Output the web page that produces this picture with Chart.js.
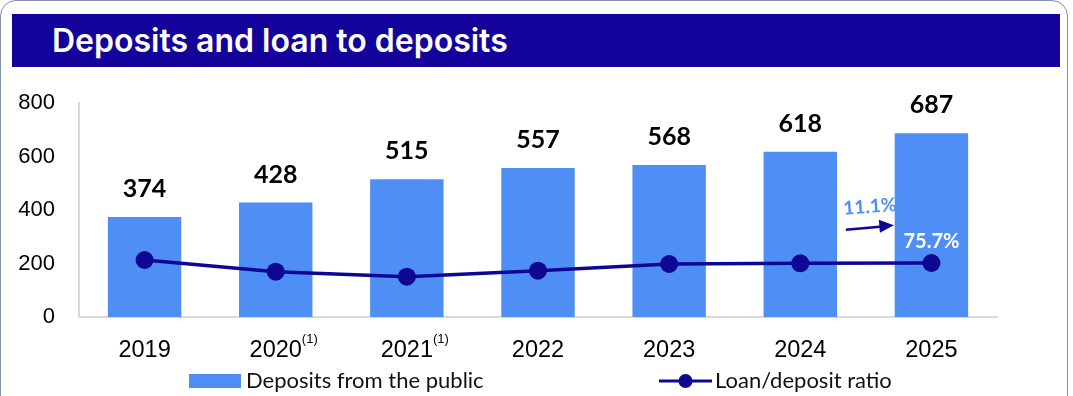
<!DOCTYPE html>
<html>
<head>
<meta charset="utf-8">
<script src="https://cdn.jsdelivr.net/npm/chart.js"></script>
<style>
  body { margin: 0; background: #fff; }
  #frame {
    position: absolute; left: 0; top: 0; width: 1066px; height: 410px;
    border: 1.5px solid #8391a8; border-radius: 16px; overflow: hidden;
  }
  #banner {
    position: absolute; left: 12px; top: 14px; width: 1048px; height: 53px;
    background: #13039a; color: #fff;
    font-family: Inter, "Open Sans", sans-serif; font-weight: 600; font-size: 32px;
    line-height: 53px; padding-left: 40px; box-sizing: border-box;
  }
  #wrap { position: absolute; left: 0; top: 80px; width: 1073px; height: 316px; }
</style>
</head>
<body>
<div id="frame"></div>
<div id="banner">Deposits and loan to deposits</div>
<div id="wrap"><canvas id="chart" width="1073" height="316"></canvas></div>
<script>
const years = ['2019', '2020', '2021', '2022', '2023', '2024', '2025'];
const footnoted = ['2020', '2021'];
const deposits = [374, 428, 515, 557, 568, 618, 687];
const loanToDeposit = [79.9, 63.5, 56.5, 64.9, 74.3, 75.3, 75.7];
const yTicks = [0, 200, 400, 600, 800];
const growthLabel = '11.1%';

const BAR = '#4f8ff5';
const NAVY = '#0e0794';
const TICK_FONT = 23.5;

// numbers above bars, last ratio label, growth arrow, footnote marks, legend
const extras = {
  id: 'extras',
  afterDatasetsDraw(chart) {
    const ctx = chart.ctx;
    const x = chart.scales.x, y = chart.scales.y;
    ctx.save();
    ctx.fillStyle = '#000';
    ctx.font = 'bold 25px Lato';
    ctx.textAlign = 'center';
    ctx.textBaseline = 'middle';
    chart.getDatasetMeta(0).data.forEach((bar, i) => {
      ctx.fillText(deposits[i], bar.x, bar.y - 28);
    });

    const pts = chart.getDatasetMeta(1).data;
    const last = pts[pts.length - 1];
    ctx.fillStyle = '#fff';
    ctx.font = 'bold 20px Lato';
    ctx.fillText(loanToDeposit[loanToDeposit.length - 1] + '%', last.x, last.y - 21);

    // growth between the last two years
    const gx = (x.getPixelForValue(5) + x.getPixelForValue(6)) / 2;
    const gy = y.getPixelForValue(345);
    ctx.save();
    ctx.translate(gx + 4, gy - 18);
    ctx.rotate(-0.07);
    ctx.fillStyle = BAR;
    ctx.font = 'bold 19px Lato';
    ctx.fillText(growthLabel, 0, 0);
    ctx.restore();
    ctx.strokeStyle = NAVY;
    ctx.fillStyle = NAVY;
    ctx.lineWidth = 2.5;
    ctx.beginPath();
    ctx.moveTo(gx - 20, gy + 5);
    ctx.lineTo(gx + 14, gy + 2);
    ctx.stroke();
    ctx.beginPath();
    ctx.moveTo(gx + 28, gy + 0.5);
    ctx.lineTo(gx + 13, gy - 5);
    ctx.lineTo(gx + 14, gy + 8);
    ctx.closePath();
    ctx.fill();
    ctx.restore();
  },
  afterDraw(chart) {
    const ctx = chart.ctx;
    const x = chart.scales.x;
    const area = chart.chartArea;
    ctx.save();
    // footnote superscripts on tick labels
    years.forEach((yr, i) => {
      if (!footnoted.includes(yr)) return;
      ctx.font = TICK_FONT + 'px "Liberation Sans"';
      const w = ctx.measureText(yr).width;
      const px = x.getPixelForValue(i) + w / 2;
      ctx.font = '13px "Liberation Sans"';
      ctx.fillStyle = '#000';
      ctx.textAlign = 'left';
      ctx.textBaseline = 'middle';
      ctx.fillText('(1)', px, area.bottom + 22);
    });

    // legend
    const ly = 301;
    const l1 = area.left + 110;
    ctx.fillStyle = BAR;
    ctx.fillRect(l1, ly - 7, 52, 14);
    ctx.fillStyle = '#111';
    ctx.font = '22px Lato';
    ctx.textAlign = 'left';
    ctx.textBaseline = 'middle';
    ctx.fillText('Deposits from the public', l1 + 57, ly);
    const l2 = area.left + 580;
    ctx.strokeStyle = NAVY;
    ctx.lineWidth = 3;
    ctx.beginPath();
    ctx.moveTo(l2, ly);
    ctx.lineTo(l2 + 53, ly);
    ctx.stroke();
    ctx.fillStyle = NAVY;
    ctx.beginPath();
    ctx.arc(l2 + 26.5, ly, 7, 0, Math.PI * 2);
    ctx.fill();
    ctx.fillStyle = '#111';
    ctx.fillText('Loan/deposit ratio', l2 + 56, ly);
    ctx.restore();
  }
};

new Chart(document.getElementById('chart'), {
  data: {
    labels: years,
    datasets: [
      {
        type: 'bar',
        label: 'Deposits from the public',
        data: deposits,
        backgroundColor: BAR,
        categoryPercentage: 1,
        barPercentage: 0.56,
        order: 1
      },
      {
        type: 'line',
        label: 'Loan/deposit ratio',
        data: loanToDeposit,
        yAxisID: 'y2',
        borderColor: NAVY,
        backgroundColor: NAVY,
        borderWidth: 3.5,
        pointRadius: 9,
        pointHoverRadius: 9,
        pointBackgroundColor: NAVY,
        pointBorderWidth: 0,
        tension: 0,
        order: 0
      }
    ]
  },
  options: {
    responsive: false,
    animation: false,
    layout: { padding: { top: 23, right: 76, left: 0, bottom: 0 } },
    plugins: { legend: { display: false }, tooltip: { enabled: false } },
    scales: {
      x: {
        grid: { display: false, drawTicks: false },
        border: { color: '#d9d9d9', width: 2 },
        ticks: { color: '#000', font: { family: 'Liberation Sans', size: TICK_FONT }, padding: 19 },
        afterFit(s) { s.height = 79; }
      },
      y: {
        min: 0,
        max: 800,
        afterBuildTicks(s) { s.ticks = yTicks.map(v => ({ value: v })); },
        // tick marks are hidden; their length only spaces the labels from the axis
        grid: { display: false, drawTicks: true, tickLength: 22 },
        border: { color: '#d9d9d9', width: 2 },
        ticks: { color: '#000', font: { family: 'Liberation Sans', size: 22 }, padding: 2 },
        afterFit(s) { s.width = 79; }
      },
      y2: { display: false, min: 0, max: 300 }
    }
  },
  plugins: [extras]
});
</script>
</body>
</html>
